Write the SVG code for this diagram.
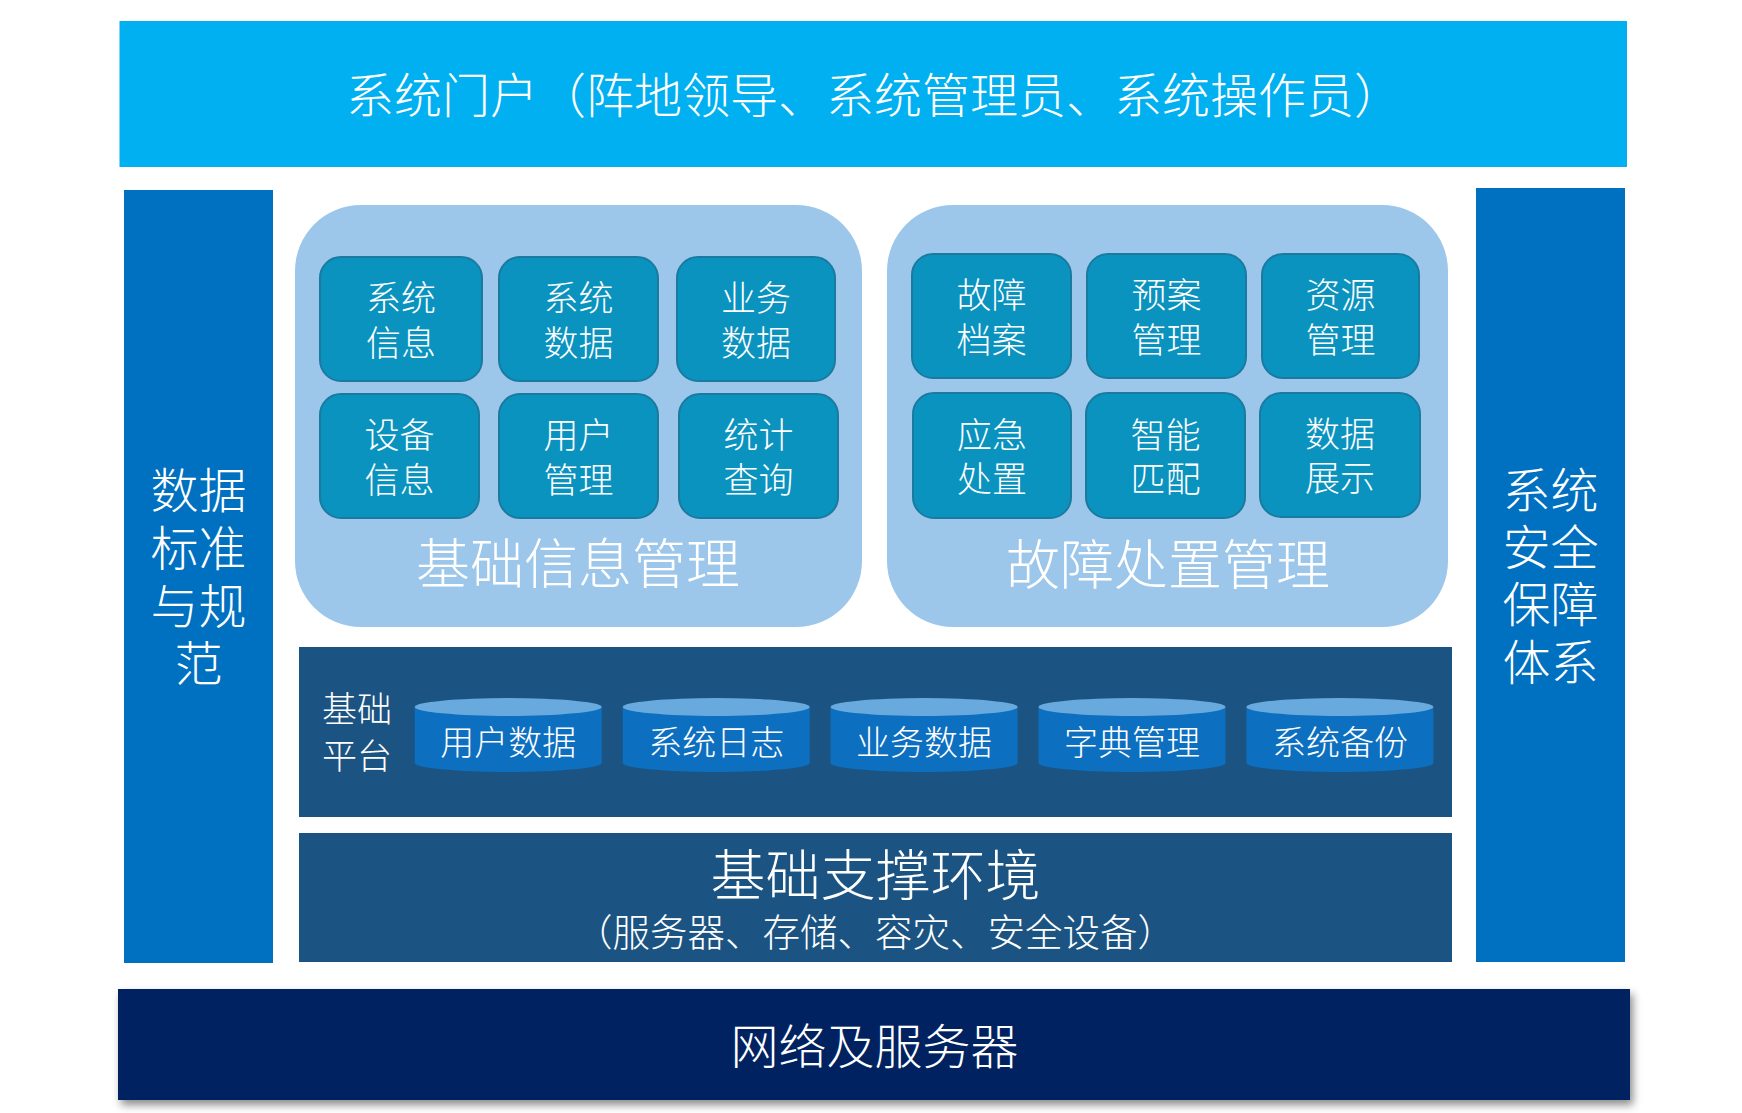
<svg xmlns="http://www.w3.org/2000/svg" width="1742" height="1113" viewBox="0 0 1742 1113">
<defs>
<style>
text{font-family:"Noto Sans CJK SC","Noto Sans CJK TC",sans-serif;fill:#ffffff;text-anchor:middle;font-weight:300}
.bar{fill:#00b0f0}
.col{fill:#0070c0}
.panel{fill:#9cc7ea}
.tile{fill:#0a93bf;stroke:#1a7aa0;stroke-width:2}
.band{fill:#1b5482}
.cylb{fill:#0d6fbf}
.cylt{fill:#68a9de}
.t48{font-size:48px}
.t35{font-size:35px}
.t34{font-size:34px}
.t54{font-size:54px}
</style>
<filter id="sh" x="-5%" y="-20%" width="110%" height="150%">
<feDropShadow dx="3" dy="5" stdDeviation="4" flood-color="#000" flood-opacity="0.45"/>
</filter>
</defs>
<rect width="1742" height="1113" fill="#ffffff"/>

<g id="portal">
<rect class="bar" x="119.5" y="21" width="1507.5" height="146"/>
<text class="t48" x="874" y="113">系统门户（阵地领导、系统管理员、系统操作员）</text>
</g>

<g id="data-standard">
<rect class="col" x="124" y="190" width="149" height="773"/>
<text class="t48"><tspan x="198.5" y="508">数据</tspan><tspan x="198.5" y="566">标准</tspan><tspan x="198.5" y="624">与规</tspan><tspan x="198.5" y="681">范</tspan></text>
</g>

<g id="security">
<rect class="col" x="1476" y="188" width="149" height="774"/>
<text class="t48"><tspan x="1550.5" y="508">系统</tspan><tspan x="1550.5" y="565">安全</tspan><tspan x="1550.5" y="622">保障</tspan><tspan x="1550.5" y="680">体系</tspan></text>
</g>

<g id="basic-info">
<rect class="panel" x="295" y="205" width="567" height="422" rx="66"/>
<text class="t54" x="578" y="584">基础信息管理</text>
</g>
<g id="tile-sysinfo"><rect class="tile" x="320" y="257" width="162" height="124" rx="21"/><text class="t35"><tspan x="401" y="311">系统</tspan><tspan x="401" y="356">信息</tspan></text></g>
<g id="tile-sysdata"><rect class="tile" x="499" y="257" width="159" height="124" rx="21"/><text class="t35"><tspan x="578.5" y="311">系统</tspan><tspan x="578.5" y="356">数据</tspan></text></g>
<g id="tile-bizdata"><rect class="tile" x="677" y="257" width="158" height="124" rx="21"/><text class="t35"><tspan x="756" y="311">业务</tspan><tspan x="756" y="356">数据</tspan></text></g>
<g id="tile-devinfo"><rect class="tile" x="320" y="394" width="159" height="124" rx="21"/><text class="t35"><tspan x="399.5" y="448">设备</tspan><tspan x="399.5" y="493">信息</tspan></text></g>
<g id="tile-usermgmt"><rect class="tile" x="499" y="394" width="159" height="124" rx="21"/><text class="t35"><tspan x="578.5" y="448">用户</tspan><tspan x="578.5" y="493">管理</tspan></text></g>
<g id="tile-stats"><rect class="tile" x="679" y="394" width="159" height="124" rx="21"/><text class="t35"><tspan x="758.5" y="448">统计</tspan><tspan x="758.5" y="493">查询</tspan></text></g>

<g id="fault-mgmt">
<rect class="panel" x="887" y="205" width="561" height="422" rx="66"/>
<text class="t54" x="1168" y="585">故障处置管理</text>
</g>
<g id="tile-archive"><rect class="tile" x="912" y="254" width="159" height="124" rx="21"/><text class="t35"><tspan x="991.5" y="308">故障</tspan><tspan x="991.5" y="353">档案</tspan></text></g>
<g id="tile-plan"><rect class="tile" x="1087" y="254" width="159" height="124" rx="21"/><text class="t35"><tspan x="1166.5" y="308">预案</tspan><tspan x="1166.5" y="353">管理</tspan></text></g>
<g id="tile-resource"><rect class="tile" x="1262" y="254" width="157" height="124" rx="21"/><text class="t35"><tspan x="1340.5" y="308">资源</tspan><tspan x="1340.5" y="353">管理</tspan></text></g>
<g id="tile-emergency"><rect class="tile" x="913" y="393" width="158" height="125" rx="21"/><text class="t35"><tspan x="992" y="448">应急</tspan><tspan x="992" y="492">处置</tspan></text></g>
<g id="tile-match"><rect class="tile" x="1086" y="393" width="159" height="125" rx="21"/><text class="t35"><tspan x="1165.5" y="448">智能</tspan><tspan x="1165.5" y="492">匹配</tspan></text></g>
<g id="tile-display"><rect class="tile" x="1260" y="393" width="160" height="124" rx="21"/><text class="t35"><tspan x="1340" y="447">数据</tspan><tspan x="1340" y="491">展示</tspan></text></g>

<g id="platform">
<rect class="band" x="299" y="647" width="1153" height="170"/>
<text class="t35"><tspan x="357" y="722">基础</tspan><tspan x="357" y="769">平台</tspan></text>
</g>
<g id="cyl-user">
<path class="cylb" d="M414.7 707 V763 A93.5 9 0 0 0 601.7 763 V707 Z"/>
<ellipse class="cylt" cx="508.2" cy="707" rx="93.5" ry="9"/>
<text class="t34" x="508.2" y="755">用户数据</text>
</g>
<g id="cyl-log">
<path class="cylb" d="M622.7 707 V763 A93.5 9 0 0 0 809.7 763 V707 Z"/>
<ellipse class="cylt" cx="716.2" cy="707" rx="93.5" ry="9"/>
<text class="t34" x="716.2" y="755">系统日志</text>
</g>
<g id="cyl-biz">
<path class="cylb" d="M830.6 707 V763 A93.5 9 0 0 0 1017.6 763 V707 Z"/>
<ellipse class="cylt" cx="924.1" cy="707" rx="93.5" ry="9"/>
<text class="t34" x="924.1" y="755">业务数据</text>
</g>
<g id="cyl-dict">
<path class="cylb" d="M1038.5 707 V763 A93.5 9 0 0 0 1225.5 763 V707 Z"/>
<ellipse class="cylt" cx="1132" cy="707" rx="93.5" ry="9"/>
<text class="t34" x="1132" y="755">字典管理</text>
</g>
<g id="cyl-backup">
<path class="cylb" d="M1246.4 707 V763 A93.5 9 0 0 0 1433.4 763 V707 Z"/>
<ellipse class="cylt" cx="1339.9" cy="707" rx="93.5" ry="9"/>
<text class="t34" x="1339.9" y="755">系统备份</text>
</g>

<g id="support-env">
<rect class="band" x="299" y="833" width="1153" height="129"/>
<text x="875.5" y="895" style="font-size:55px">基础支撑环境</text>
<text x="875" y="946" style="font-size:37.5px">（服务器、存储、容灾、安全设备）</text>
</g>

<g id="network">
<rect x="118" y="989" width="1512" height="111" fill="#002060" filter="url(#sh)"/>
<text x="874.5" y="1064" style="font-size:48px">网络及服务器</text>
</g>

<g id="connectors"></g>
</svg>
